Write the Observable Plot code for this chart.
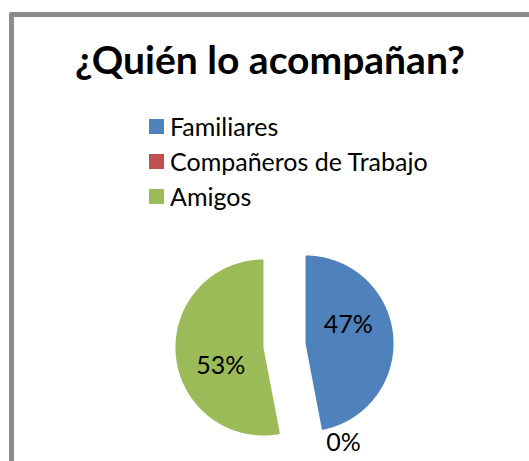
<!DOCTYPE html>
<html>
<head>
<meta charset="utf-8">
<script src="https://cdn.jsdelivr.net/npm/d3@7"></script>
<script src="https://cdn.jsdelivr.net/npm/@observablehq/plot@0.6"></script>
<style>
  html, body { margin: 0; padding: 0; background: #fff; }
  #wrap { position: relative; width: 529px; height: 461px; overflow: hidden; font-family: Lato, "Open Sans", sans-serif; }
  #frame { position: absolute; left: 9px; top: 12px; width: 600px; height: 600px;
           border-top: 5px solid #8c8c8c; border-left: 5px solid #8c8c8c; border-top-left-radius: 3px; box-sizing: border-box; }
  #title { position: absolute; left: 0; width: 540px; top: 36px; text-align: center;
           font-weight: bold; font-size: 39px; line-height: 46px; color: #000; }
  #legend { position: absolute; left: 149px; top: 108px; }
  .row { display: flex; align-items: center; height: 35px; font-size: 25px; color: #000; }
  .sw { width: 15px; height: 15px; margin-right: 6px; margin-top: 2px; }
  #chart { position: absolute; left: 0; top: 0; }
</style>
</head>
<body>
<div id="wrap">
  <div id="frame"></div>
  <div id="title"></div>
  <div id="legend"></div>
  <div id="chart"></div>
</div>
<script>
const title = "¿Quién lo acompañan?";
const categories = ["Familiares", "Compañeros de Trabajo", "Amigos"];
const values = [47, 0, 53];
const colors = ["#4f81bd", "#c0504d", "#9bbb59"];

document.getElementById("title").textContent = title;
const legend = document.getElementById("legend");
categories.forEach((c, i) => {
  const row = document.createElement("div");
  row.className = "row";
  const sw = document.createElement("div");
  sw.className = "sw";
  sw.style.background = colors[i];
  const t = document.createElement("span");
  t.textContent = c;
  row.appendChild(sw); row.appendChild(t);
  legend.appendChild(row);
});

// pie geometry (unit radius, angles clockwise from 12 o'clock)
const explode = 0.24;
const arcs = d3.pie().sort(null)(values);
const polys = [];
const labelData = [];
arcs.forEach((a, i) => {
  const mid = (a.startAngle + a.endAngle) / 2;
  const cx = explode * Math.sin(mid), cy = explode * Math.cos(mid);
  if (a.endAngle > a.startAngle) {
    polys.push({cat: categories[i], x: cx, y: cy});
    const n = Math.max(2, Math.ceil((a.endAngle - a.startAngle) / 0.01));
    for (let k = 0; k <= n; k++) {
      const t = a.startAngle + (a.endAngle - a.startAngle) * k / n;
      polys.push({cat: categories[i], x: cx + Math.sin(t), y: cy + Math.cos(t)});
    }
    polys.push({cat: categories[i], x: cx, y: cy});
  }
  const inside = values[i] > 0;
  const la = mid - (inside ? 18 : 25) * Math.PI / 180;
  const lr = inside ? 0.53 : 1.07;
  labelData.push({text: values[i] + "%", x: cx + lr * Math.sin(la), y: cy + lr * Math.cos(la)});
});

const plot = Plot.plot({
  width: 529,
  height: 461,
  marginLeft: 196,
  marginRight: 157,
  marginTop: 257,
  marginBottom: 28,
  x: {domain: [-1, 1], axis: null},
  y: {domain: [-1, 1], axis: null},
  color: {domain: categories, range: colors},
  style: {fontFamily: "Lato, 'Open Sans', sans-serif", background: "transparent"},
  marks: [
    Plot.line(polys, {x: "x", y: "y", z: "cat", fill: "cat", stroke: "none", curve: "linear"}),
    Plot.text(labelData, {x: "x", y: "y", text: "text", fontSize: 25, fill: "#000"})
  ]
});
document.getElementById("chart").appendChild(plot);
</script>
</body>
</html>
